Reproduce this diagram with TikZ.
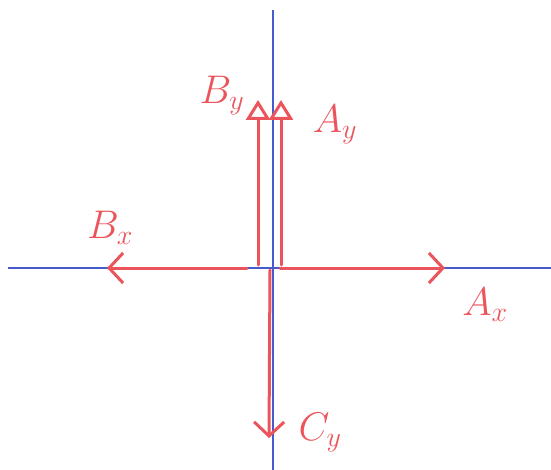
\RequirePackage{fix-cm}
\documentclass[tikz,border=0pt]{standalone}
\usetikzlibrary{arrows.meta}
\definecolor{penred}{RGB}{236,84,92}
\definecolor{penblue}{RGB}{70,92,205}
\tikzset{
  axis/.style={penblue, line width=1.2pt},
  force/.style={penred, line width=3pt, line cap=round},
  barb/.style={force, -{Straight Barb[length=14pt, width=30pt, line width=3pt]}},
  hollow/.style={force, -{Triangle[open, length=20pt, width=24pt, line width=3pt]}},
  lbl/.style={penred, font=\fontsize{40}{48}\selectfont}
}
\begin{document}
\begin{tikzpicture}[x=1pt, y=-1pt]
\useasboundingbox (0,0) rectangle (551,470);
% axes
\coordinate (o) at (273,268);
\coordinate (xl) at (8,268);
\coordinate (xr) at (551,268);
\coordinate (yt) at (273,10);
\coordinate (yb) at (273,470);
\draw[axis] (xl) -- (xr);
\draw[axis] (yt) -- (yb);
% forces
\coordinate (axs) at (280,268);
\coordinate (axe) at (445,268);
\coordinate (bxs) at (247,268);
\coordinate (bxe) at (107,268);
\coordinate (bys) at (258,265);
\coordinate (bye) at (258,100);
\coordinate (ays) at (281,265);
\coordinate (aye) at (281,100);
\coordinate (cys) at (270,270);
\coordinate (cye) at (269,438);
\draw[barb] (axs) -- (axe);
\draw[barb] (bxs) -- (bxe);
\draw[barb] (cys) -- (cye);
\draw[hollow] (bys) -- (bye);
\draw[hollow] (ays) -- (aye);
% labels
\node[lbl] (lAx) at (485,305) {$A_x$};
\node[lbl] (lBx) at (110,228) {$B_x$};
\node[lbl] (lAy) at (335,125) {$A_y$};
\node[lbl] (lBy) at (222,96) {$B_y$};
\node[lbl] (lCy) at (320,433) {$C_y$};
\end{tikzpicture}
\end{document}
